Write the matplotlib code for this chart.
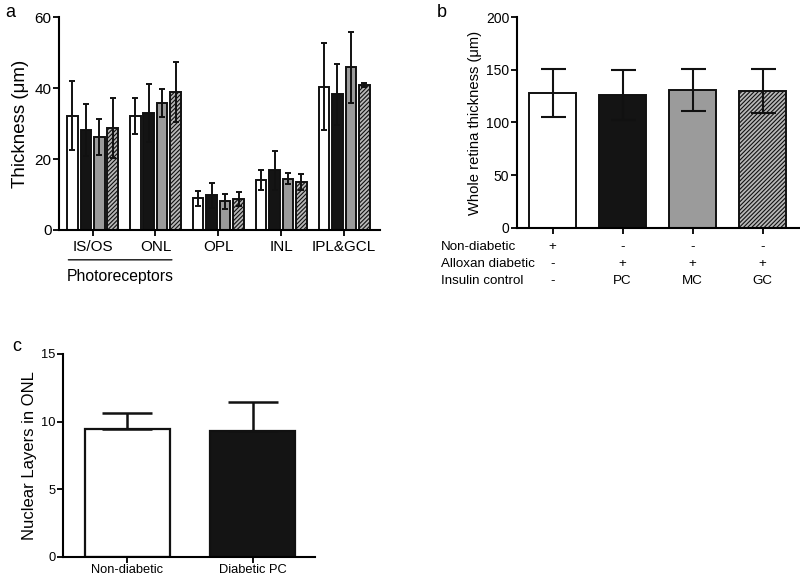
import numpy as np
import matplotlib
matplotlib.use('Agg')
import matplotlib.pyplot as plt

plt.rcParams['font.family'] = ['Liberation Sans', 'DejaVu Sans']
plt.rcParams['font.size'] = 10
plt.rcParams['hatch.linewidth'] = 0.8
plt.rcParams['axes.linewidth'] = 1.5

# ---------------- data ----------------
layers = ['IS/OS', 'ONL', 'OPL', 'INL', 'IPL&GCL']
groups = ['Non-diabetic', 'Diabetic PC', 'Diabetic MC', 'Diabetic GC']
layer_mean = {
    'Non-diabetic': [32.2, 32.1, 8.9, 14.1, 40.4],
    'Diabetic PC':  [28.2, 32.9, 9.8, 16.8, 38.2],
    'Diabetic MC':  [26.3, 35.7, 8.1, 14.5, 45.8],
    'Diabetic GC':  [28.7, 38.9, 8.8, 13.6, 40.8],
}
layer_sd = {
    'Non-diabetic': [9.7, 5.0, 2.1, 2.7, 12.3],
    'Diabetic PC':  [7.4, 8.1, 3.5, 5.5, 8.5],
    'Diabetic MC':  [5.1, 4.0, 2.1, 1.6, 9.9],
    'Diabetic GC':  [8.4, 8.4, 2.0, 2.2, 0.6],
}

whole_mean = [128, 126, 131, 130]
whole_sd = [23, 24, 20, 21]
table_rows = ['Non-diabetic', 'Alloxan diabetic', 'Insulin control']
table_vals = [['+', '-', '-', '-'],
              ['-', '+', '+', '+'],
              ['-', 'PC', 'MC', 'GC']]

onl_groups = ['Non-diabetic', 'Diabetic PC']
onl_mean = [9.45, 9.3]
onl_sd = [1.15, 2.15]

# styles per group
face = ['white', '#141414', '#9b9b9b', '#b8b8b8']
hatch = [None, None, None, '////////']

fig = plt.figure(figsize=(8, 5.77), dpi=100)


def style_axes(ax, size):
    for s in ['top', 'right']:
        ax.spines[s].set_visible(False)
    ax.tick_params(direction='out', length=4, width=1.3, labelsize=size, pad=1.5)


# ---------------- panel a ----------------
ax_a = fig.add_axes([0.074, 0.6014, 0.401, 0.3691])
style_axes(ax_a, 11)
x = np.arange(len(layers))
pitch = 0.214
w = 0.167
for i, g in enumerate(groups):
    pos = x + (i - 1.5) * pitch
    ax_a.bar(pos, layer_mean[g], width=w, color=face[i], edgecolor='#111111',
             linewidth=1.4, hatch=hatch[i], zorder=2)
    ax_a.errorbar(pos, layer_mean[g], yerr=layer_sd[g], fmt='none',
                  ecolor='#111111', elinewidth=1.4, capsize=2.5, capthick=1.4,
                  zorder=3)
ax_a.set_xlim(-0.53, 4.57)
ax_a.set_ylim(0, 60)
ax_a.set_yticks([0, 20, 40, 60])
ax_a.set_xticks(x)
ax_a.set_xticklabels(layers)
ax_a.tick_params(axis='x', pad=3)
ax_a.set_ylabel('Thickness (\u03bcm)', fontsize=13.5, labelpad=4)
ax_a.annotate('', xy=(0.02, -0.14), xycoords='axes fraction',
              xytext=(0.36, -0.14), textcoords='axes fraction',
              arrowprops=dict(arrowstyle='-', lw=1.0, color='#111111'))
ax_a.text(0.19, -0.185, 'Photoreceptors', transform=ax_a.transAxes,
          ha='center', va='top', fontsize=11.3)
fig.text(0.006, 0.978, 'a', fontsize=13, va='center')

# ---------------- panel b ----------------
ax_b = fig.add_axes([0.646, 0.6049, 0.353, 0.3656])
style_axes(ax_b, 10)
xb = np.arange(len(whole_mean))
for i in range(len(whole_mean)):
    ax_b.bar(xb[i], whole_mean[i], width=0.67, color=face[i],
             edgecolor='#111111', linewidth=1.4, hatch=hatch[i], zorder=2)
ax_b.errorbar(xb, whole_mean, yerr=whole_sd, fmt='none', ecolor='#111111',
              elinewidth=1.5, capsize=9, capthick=1.5, zorder=3)
ax_b.set_xlim(-0.51, 3.52)
ax_b.set_ylim(0, 200)
ax_b.set_yticks([0, 50, 100, 150, 200])
ax_b.set_xticks(xb)
ax_b.set_xticklabels([])
ax_b.set_ylabel('Whole retina thickness (\u03bcm)', fontsize=10.6, labelpad=3)
row_y = [-0.09, -0.171, -0.251]
for r, lab in enumerate(table_rows):
    ax_b.text(-0.268, row_y[r], lab, transform=ax_b.transAxes,
              ha='left', va='center', fontsize=9.6)
    for c in range(len(xb)):
        ax_b.annotate(table_vals[r][c], xy=(xb[c], row_y[r]),
                      xycoords=('data', 'axes fraction'),
                      ha='center', va='center', fontsize=9.6)
fig.text(0.546, 0.978, 'b', fontsize=13, va='center')

# ---------------- panel c ----------------
ax_c = fig.add_axes([0.079, 0.0352, 0.315, 0.3513])
style_axes(ax_c, 9.3)
xc = np.arange(len(onl_groups))
ax_c.bar(xc, onl_mean, width=0.676, color=face[:2], edgecolor='#111111',
         linewidth=1.6, zorder=2)
ax_c.errorbar(xc, onl_mean, yerr=[[0, 0], onl_sd], fmt='none',
              ecolor='#111111', elinewidth=1.8, capsize=18, capthick=1.8,
              zorder=3)
ax_c.set_xlim(-0.51, 1.5)
ax_c.set_ylim(0, 15)
ax_c.set_yticks([0, 5, 10, 15])
ax_c.set_xticks(xc)
ax_c.set_xticklabels(onl_groups)
ax_c.tick_params(axis='x', pad=1)
ax_c.set_ylabel('Nuclear Layers in ONL', fontsize=12, labelpad=3)
fig.text(0.015, 0.40, 'c', fontsize=13, va='center')

fig.savefig('out.png', dpi=100)
